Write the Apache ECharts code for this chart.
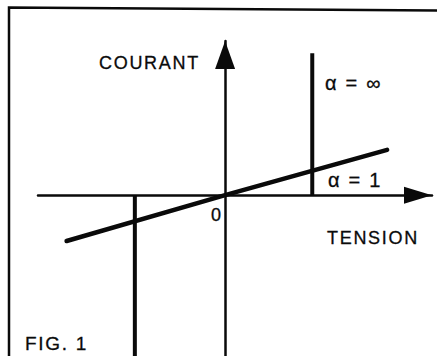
<!DOCTYPE html>
<html>
<head>
<meta charset="utf-8">
<script src="https://cdn.jsdelivr.net/npm/echarts@6/dist/echarts.min.js"></script>
<style>
  html, body { margin: 0; padding: 0; background: #fff; }
  #main { width: 437px; height: 356px; letter-spacing: 1.7px; }
</style>
</head>
<body>
<div id="main"></div>
<script>
// Axis ranges (tension horizontally, courant vertically)
const tensionRange = [-4.25, 4.7];
const courantRange = [-3.65, 3.5];

// Characteristic for alpha = 1: a straight line through the origin
const alphaOneLine = [[-3.6, -1.04], [0, 0], [3.68, 1.03]];
// Characteristic for alpha = infinity: two vertical branches
const alphaInfUpper = [[1.98, 0], [1.98, 3.22]];
const alphaInfLower = [[-2.05, 0], [-2.05, -3.65]];

// Text drawn on the figure
const axisNames = { y: 'COURANT', x: 'TENSION' };
const originLabel = '0';
const curveLabels = { inf: 'α = ∞', one: 'α = 1' };
const figureTitle = 'FIG. 1';

const ink = '#0a0a0a';
const font = '"Liberation Sans", Arial, Helvetica, sans-serif';

const chart = echarts.init(document.getElementById('main'), null, { renderer: 'svg' });

function axisLine(size) {
  return {
    show: true,
    onZero: true,
    symbol: ['none', 'triangle'],
    symbolSize: size,
    symbolOffset: [0, -size[1] / 2],
    lineStyle: { color: ink, width: 2.5 }
  };
}

function textEl(text, x, y, size, spacing) {
  return {
    type: 'text',
    x: x,
    y: y,
    style: {
      text: text,
      fill: ink,
      stroke: ink,
      lineWidth: 0.3,
      font: size + 'px ' + font,
      textAlign: 'left',
      textVerticalAlign: 'middle'
    },
    z: 10
  };
}

function branch(data, width) {
  return {
    type: 'line',
    data: data,
    symbol: 'none',
    silent: true,
    lineStyle: { color: ink, width: width, cap: 'butt' },
    z: 3
  };
}

chart.setOption({
  backgroundColor: '#fff',
  animation: false,
  grid: { left: 38, right: 5, top: 41, bottom: 0, containLabel: false },
  xAxis: {
    type: 'value',
    min: tensionRange[0],
    max: tensionRange[1],
    axisLine: axisLine([17, 28]),
    axisTick: { show: false },
    axisLabel: { show: false },
    splitLine: { show: false }
  },
  yAxis: {
    type: 'value',
    min: courantRange[0],
    max: courantRange[1],
    axisLine: axisLine([20, 28]),
    axisTick: { show: false },
    axisLabel: { show: false },
    splitLine: { show: false }
  },
  series: [
    branch(alphaInfUpper, 4),
    branch(alphaInfLower, 4),
    {
      type: 'line',
      data: alphaOneLine,
      symbol: 'none',
      silent: true,
      lineStyle: { color: ink, width: 4.5, cap: 'round' },
      z: 4
    }
  ],
  graphic: [
    {
      type: 'polyline',
      shape: { points: [[9, 360], [9, 7.5], [440, 10.5]] },
      style: { stroke: ink, lineWidth: 2.5, fill: 'none' }
    },
    textEl(axisNames.y, 99, 63, 18),
    textEl(axisNames.x, 327, 237.5, 18),
    textEl(originLabel, 211, 214.5, 18),
    textEl(curveLabels.inf, 325, 83, 20),
    textEl(curveLabels.one, 328, 180, 20),
    textEl(figureTitle, 25, 343, 19)
  ]
});
</script>
</body>
</html>
